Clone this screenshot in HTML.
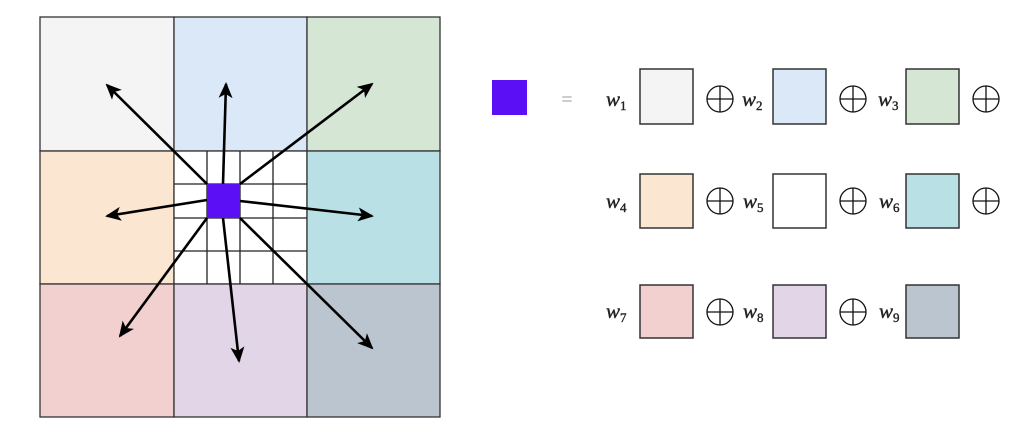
<!DOCTYPE html>
<html><head><meta charset="utf-8"><style>html,body{margin:0;padding:0;background:#fff}svg{display:block}</style></head>
<body>
<svg width="1024" height="436" viewBox="0 0 1024 436" xmlns="http://www.w3.org/2000/svg" font-family="Liberation Serif, serif">
<defs>
<marker id="b" markerWidth="18" markerHeight="18" refX="14" refY="7" orient="auto" markerUnits="userSpaceOnUse">
<path d="M0,0 L16,7 L0,14 L4,7 Z" fill="#000"/>
</marker>
<g id="op" stroke="#111" stroke-width="1.3" fill="none"><circle cx="0" cy="0" r="13"/><path d="M-13,0H13M0,-13V13"/></g>
</defs>
<g stroke="#333" stroke-width="1.3">
<rect x="40" y="17" width="134" height="134" fill="#f4f4f4"/>
<rect x="174" y="17" width="133" height="134" fill="#dae8f8"/>
<rect x="307" y="17" width="133" height="134" fill="#d6e6d5"/>
<rect x="40" y="151" width="134" height="133" fill="#fbe6d1"/>
<rect x="174" y="151" width="133" height="133" fill="#fff"/>
<rect x="307" y="151" width="133" height="133" fill="#b9e1e5"/>
<rect x="40" y="284" width="134" height="133" fill="#f1d0cf"/>
<rect x="174" y="284" width="133" height="133" fill="#e1d5e7"/>
<rect x="307" y="284" width="133" height="133" fill="#bbc5d0"/>
<path d="M207,151V284M240,151V284M273,151V284M174,184H307M174,218H307M174,251H307" fill="none" stroke="#222"/>
</g>
<g stroke="#000" stroke-width="2.6" marker-end="url(#b)">
<line x1="207" y1="184" x2="107" y2="85"/>
<line x1="223" y1="184" x2="226" y2="84"/>
<line x1="240" y1="184" x2="372" y2="84"/>
<line x1="207" y1="200" x2="107" y2="216"/>
<line x1="240" y1="201" x2="372" y2="216"/>
<line x1="207" y1="218" x2="120" y2="336"/>
<line x1="223" y1="218" x2="239" y2="361"/>
<line x1="240" y1="218" x2="372" y2="348"/>
</g>
<rect x="207" y="184" width="33" height="34" fill="#5a0ff5"/>
<rect x="492" y="80" width="35" height="35" fill="#5a0ff5"/>
<text x="567" y="106" font-size="20" fill="#999" text-anchor="middle">=</text>
<g stroke="#333" stroke-width="1.5">
<rect x="640" y="69" width="53" height="55" fill="#f4f4f4"/>
<rect x="773" y="69" width="53" height="55" fill="#dae8f8"/>
<rect x="906" y="69" width="53" height="55" fill="#d6e6d5"/>
<rect x="640" y="174" width="53" height="54" fill="#fbe6d1"/>
<rect x="773" y="174" width="53" height="54" fill="#fff"/>
<rect x="906" y="174" width="53" height="54" fill="#b9e1e5"/>
<rect x="640" y="285" width="53" height="53" fill="#f1d0cf"/>
<rect x="773" y="285" width="53" height="53" fill="#e1d5e7"/>
<rect x="906" y="285" width="53" height="53" fill="#bbc5d0"/>
</g>
<use href="#op" x="720" y="99"/><use href="#op" x="853" y="99"/><use href="#op" x="986" y="99"/>
<use href="#op" x="720" y="201"/><use href="#op" x="853" y="201"/><use href="#op" x="986" y="201"/>
<use href="#op" x="720" y="312"/><use href="#op" x="853" y="312"/>
<g font-size="21" font-style="italic" fill="#222" stroke="#222" stroke-width="0.4">
<text x="606" y="106">w<tspan font-size="13" font-style="normal" dy="4">1</tspan></text>
<text x="742" y="106">w<tspan font-size="13" font-style="normal" dy="4">2</tspan></text>
<text x="878" y="106">w<tspan font-size="13" font-style="normal" dy="4">3</tspan></text>
<text x="606" y="208">w<tspan font-size="13" font-style="normal" dy="4">4</tspan></text>
<text x="743" y="208">w<tspan font-size="13" font-style="normal" dy="4">5</tspan></text>
<text x="879" y="208">w<tspan font-size="13" font-style="normal" dy="4">6</tspan></text>
<text x="606" y="318">w<tspan font-size="13" font-style="normal" dy="4">7</tspan></text>
<text x="743" y="318">w<tspan font-size="13" font-style="normal" dy="4">8</tspan></text>
<text x="879" y="318">w<tspan font-size="13" font-style="normal" dy="4">9</tspan></text>
</g>
</svg>
</body></html>
